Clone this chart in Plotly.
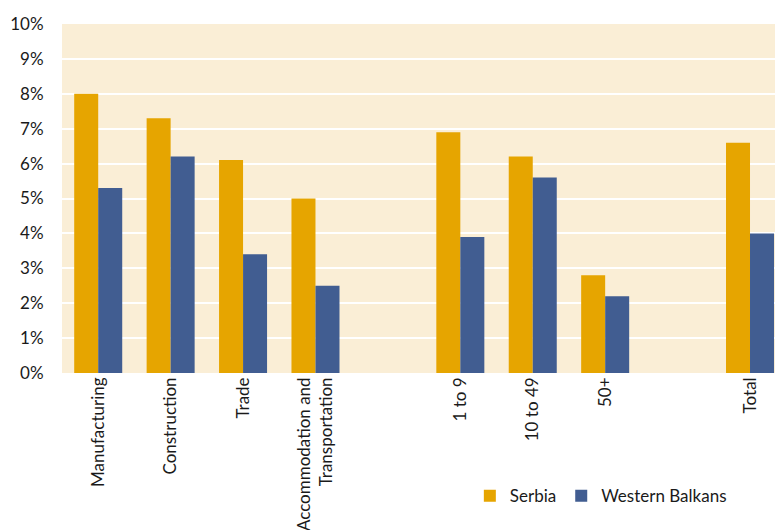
import plotly.graph_objects as go

categories = ["Manufacturing", "Construction", "Trade", "Accommodation and<br>Transportation",
              " ", "1 to 9", "10 to 49", "50+", "  ", "Total"]
serbia = [8.0, 7.3, 6.1, 5.0, None, 6.9, 6.2, 2.8, None, 6.6]
western_balkans = [5.3, 6.2, 3.4, 2.5, None, 3.9, 5.6, 2.2, None, 4.0]
y_ticks = [0, 1, 2, 3, 4, 5, 6, 7, 8, 9, 10]
y_tick_labels = ["0%", "1%", "2%", "3%", "4%", "5%", "6%", "7%", "8%", "9%", "10%"]

fig = go.Figure()
fig.add_trace(go.Bar(x=categories, y=serbia, name="Serbia",
                     marker=dict(color="#E6A500", line=dict(width=0))))
fig.add_trace(go.Bar(x=categories, y=western_balkans, name="Western Balkans",
                     marker=dict(color="#415D91", line=dict(width=0))))

fig.update_layout(
    width=775, height=530,
    margin=dict(l=62, r=0, t=24, b=157),
    paper_bgcolor="white",
    plot_bgcolor="#FAEED6",
    barmode="group",
    bargap=0.337,
    bargroupgap=0,
    font=dict(family="Lato, Carlito, sans-serif", size=17, color="#1a1a1a"),
    showlegend=True,
    legend=dict(orientation="h", x=0.572, xanchor="left", y=-0.353, yanchor="middle",
                font=dict(size=17), itemwidth=30, traceorder="normal"),
    xaxis=dict(type="category", categoryorder="array", categoryarray=categories,
               range=[-0.5, 9.345], tickangle=-90, showgrid=False, zeroline=False,
               showline=False, ticks=""),
    yaxis=dict(range=[0, 10], tickmode="array", tickvals=y_ticks, ticktext=y_tick_labels,
               showgrid=True, gridcolor="white", gridwidth=2, zeroline=False, showline=False,
               ticks="outside", ticklen=14, tickcolor="rgba(0,0,0,0)"),
)

fig.write_html("out.html", config={"displayModeBar": False},
               post_script="document.body.style.margin='0';document.body.style.overflow='hidden';")
